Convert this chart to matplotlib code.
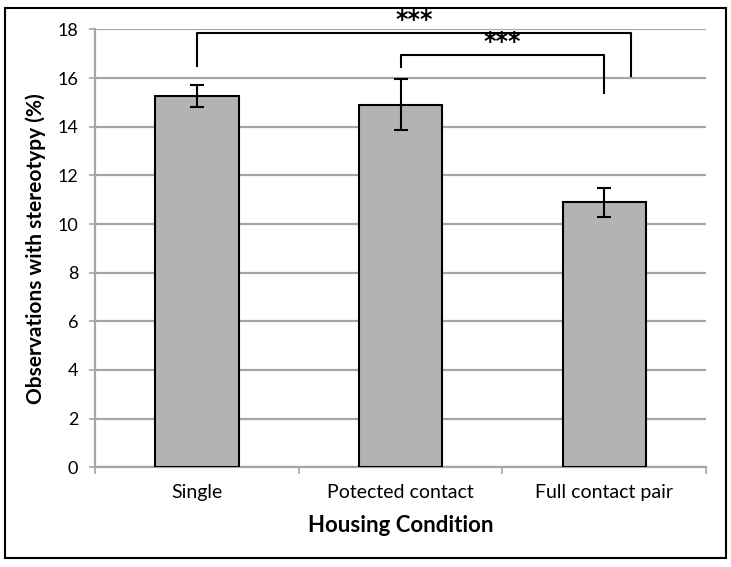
import matplotlib.pyplot as plt
from matplotlib.patches import Rectangle

# Data
categories = ["Single", "Potected contact", "Full contact pair"]
means = [15.25, 14.9, 10.9]
errors = [0.45, 1.05, 0.6]

# significance brackets: (x_left, x_right, y_bar, y_left_end, y_right_end, label)
brackets = [
    (0.0, 2.13, 17.85, 16.5, 16.1, "***"),
    (1.0, 2.0, 16.95, 16.45, 15.4, "***"),
]

plt.rcParams['font.family'] = ['Lato', 'DejaVu Sans']

fig = plt.figure(figsize=(7.31, 5.67), dpi=100)
ax = fig.add_axes([0.130, 0.176, 0.836, 0.772])

x = range(len(categories))
ax.bar(x, means, width=0.41, color="#b3b3b3", edgecolor="black", linewidth=1.5, zorder=3)
ax.errorbar(x, means, yerr=errors, fmt="none", ecolor="black", elinewidth=1.5,
            capsize=5, capthick=1.5, zorder=4)

ax.set_xlim(-0.5, 2.5)
ax.set_ylim(0, 18)
ax.set_yticks(range(0, 19, 2))
ax.yaxis.grid(True, color="#a6a6a6", linewidth=1.6, zorder=0)
ax.set_axisbelow(True)

# category ticks between bars, labels centred under bars
ax.set_xticks([-0.5, 0.5, 1.5, 2.5])
ax.set_xticklabels([])
ax.set_xticks(list(x), minor=True)
ax.set_xticklabels(categories, minor=True, fontsize=14)
ax.tick_params(axis="x", which="minor", length=0, pad=12)
ax.tick_params(axis="x", which="major", length=5, color="#a6a6a6", width=1.2)
ax.tick_params(axis="y", length=4, color="#a6a6a6", width=1.2, labelsize=13, pad=8)

for side in ["top", "right"]:
    ax.spines[side].set_visible(False)
for side in ["left", "bottom"]:
    ax.spines[side].set_color("#a6a6a6")
    ax.spines[side].set_linewidth(1.6)

ax.set_ylabel("Observations with stereotypy (%)", fontsize=15, fontweight="bold", labelpad=8)
ax.set_xlabel("Housing Condition", fontsize=16, fontweight="bold", labelpad=10)

for xl, xr, yb, yl, yr, label in brackets:
    ax.plot([xl, xl, xr, xr], [yl, yb, yb, yr], color="black", linewidth=1.5,
            clip_on=False, zorder=5)
    ax.text((xl + xr) / 2, yb + 0.05, label, ha="center", va="bottom",
            fontsize=17, fontweight="bold", family="DejaVu Sans", clip_on=False)

# outer frame around the whole figure
fig.patches.append(Rectangle((5 / 731, 9 / 567), 721 / 731, 550 / 567, transform=fig.transFigure,
                             fill=False, edgecolor="black", linewidth=1.5))

fig.savefig("out.png", dpi=100)
